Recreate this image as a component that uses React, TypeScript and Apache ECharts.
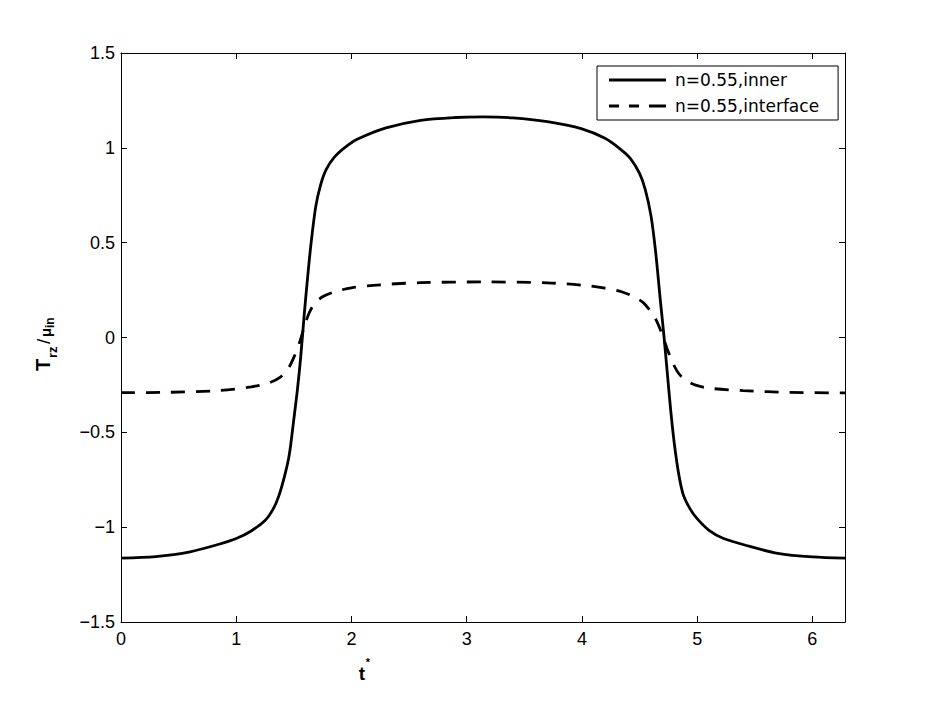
import React, { useEffect, useRef } from "react";
import * as echarts from "echarts";

// t* values and T_rz/mu_in for the inner curve (n=0.55)
const innerT = [0, 0.3, 0.6, 0.85, 1.0, 1.13, 1.25, 1.32, 1.37, 1.42, 1.46, 1.5, 1.53, 1.56, 1.59, 1.62, 1.65, 1.69, 1.73, 1.78, 1.85, 1.95, 2.05, 2.3, 2.6, 2.9, 3.14, 3.4, 3.7, 4.0, 4.2, 4.33, 4.42, 4.5, 4.55, 4.6, 4.64, 4.68, 4.71, 4.74, 4.77, 4.8, 4.84, 4.88, 4.94, 5.0, 5.1, 5.23, 5.45, 5.7, 6.0, 6.2832];
const innerV = [-1.163, -1.155, -1.13, -1.09, -1.06, -1.02, -0.965, -0.905, -0.835, -0.73, -0.62, -0.43, -0.28, -0.1, 0.12, 0.32, 0.5, 0.69, 0.8, 0.885, 0.95, 1.005, 1.045, 1.105, 1.145, 1.16, 1.163, 1.158, 1.138, 1.1, 1.05, 0.995, 0.945, 0.865, 0.78, 0.64, 0.45, 0.2, 0.02, -0.18, -0.38, -0.55, -0.72, -0.83, -0.905, -0.955, -1.015, -1.06, -1.1, -1.138, -1.157, -1.163];

// t* values and T_rz/mu_in at the interface (n=0.55)
const ifaceT = [0, 0.4, 0.85, 1.13, 1.28, 1.38, 1.45, 1.5, 1.55, 1.59, 1.63, 1.68, 1.75, 1.85, 2.0, 2.25, 2.6, 3.14, 3.7, 4.0, 4.2, 4.35, 4.45, 4.53, 4.6, 4.65, 4.7, 4.74, 4.79, 4.84, 4.9, 4.98, 5.1, 5.4, 5.8, 6.2832];
const ifaceV = [-0.291, -0.289, -0.28, -0.26, -0.24, -0.21, -0.165, -0.105, -0.025, 0.055, 0.125, 0.18, 0.215, 0.24, 0.262, 0.278, 0.289, 0.293, 0.288, 0.276, 0.26, 0.24, 0.215, 0.185, 0.135, 0.085, 0.01, -0.06, -0.135, -0.19, -0.225, -0.25, -0.267, -0.28, -0.289, -0.292];

const seriesNames = ["n=0.55,inner", "n=0.55,interface"];
const xTicks = [0, 1, 2, 3, 4, 5, 6];

const FONT = "'Liberation Sans', Arial, Helvetica, sans-serif";

export default function App() {
  const ref = useRef<HTMLDivElement>(null);
  useEffect(() => {
    if (!ref.current) return;
    const chart = echarts.init(ref.current, undefined, { renderer: "svg" });
    const innerData = innerT.map((t, i) => [t, innerV[i]]);
    const ifaceData = ifaceT.map((t, i) => [t, ifaceV[i]]);
    const axisCommon = {
      axisLine: { show: true, onZero: false, lineStyle: { color: "#000", width: 1 } },
      axisTick: { show: true, inside: true, length: 6, lineStyle: { color: "#000", width: 1 } },
      splitLine: { show: false },
    };
    const minus = (v: number) => String(v).replace("-", "\u2212");
    chart.setOption({
      animation: false,
      backgroundColor: "#fff",
      grid: { left: 121, right: 89, top: 53, bottom: 81 },
      xAxis: [
        {
          type: "value", min: 0, max: 6.2832, interval: 1, position: "bottom",
          ...axisCommon,
          axisLabel: {
            color: "#000", fontFamily: FONT, fontSize: 18, margin: 8,
            showMaxLabel: false,
            formatter: (v: number) => (xTicks.indexOf(v) >= 0 ? String(v) : ""),
          },
        },
        {
          type: "value", min: 0, max: 6.2832, interval: 1, position: "top",
          ...axisCommon, axisLabel: { show: false },
        },
      ],
      yAxis: [
        {
          type: "value", min: -1.5, max: 1.5, interval: 0.5, position: "left",
          ...axisCommon,
          axisLabel: { color: "#000", fontFamily: FONT, fontSize: 18, margin: 6, formatter: minus },
        },
        {
          type: "value", min: -1.5, max: 1.5, interval: 0.5, position: "right",
          ...axisCommon, axisLabel: { show: false },
        },
      ],
      legend: {
        orient: "vertical",
        left: 597,
        top: 66,
        padding: [4, 19, 4, 12],
        itemGap: 6,
        itemWidth: 57,
        itemHeight: 3,
        borderColor: "#000",
        borderWidth: 1,
        backgroundColor: "#fff",
        itemStyle: { color: "#000", borderWidth: 0 },
        textStyle: { color: "#000", fontFamily: "'DejaVu Sans', sans-serif", fontSize: 17, lineHeight: 20, padding: [0, 0, 0, 4] },
        data: [
          { name: seriesNames[0], icon: "path://M0,0h57v3h-57Z" },
          { name: seriesNames[1], icon: "path://M0,0h10v3h-10Z M20,0h10v3h-10Z M40,0h17v3h-17Z" },
        ],
      },
      series: [
        {
          name: seriesNames[0], type: "line", data: innerData, showSymbol: false, symbol: "none",
          smooth: 0.3,
          lineStyle: { color: "#000", width: 2.8, type: "solid" },
          itemStyle: { color: "#000" },
        },
        {
          name: seriesNames[1], type: "line", data: ifaceData, showSymbol: false, symbol: "none",
          smooth: 0.3,
          lineStyle: { color: "#000", width: 2.8, type: [14, 11] },
          itemStyle: { color: "#000" },
        },
      ],
      graphic: [
        {
          type: "group", x: 43, y: 371, rotation: Math.PI / 2,
          children: [
            { type: "text", x: 0, y: 0, style: { text: "T", font: `bold 20px ${FONT}`, fill: "#000", verticalAlign: "middle", align: "left" } },
            { type: "text", x: 13, y: 9.5, style: { text: "rz", font: `bold 13px ${FONT}`, fill: "#000", verticalAlign: "middle", align: "left" } },
            { type: "text", x: 27, y: 0, style: { text: "/", font: `19px ${FONT}`, fill: "#000", verticalAlign: "middle", align: "left" } },
            { type: "text", x: 34, y: 2, style: { text: "\u03bc", font: `bold 15px ${FONT}`, fill: "#000", verticalAlign: "middle", align: "left" } },
            { type: "text", x: 43, y: 7, style: { text: "in", font: `bold 12px ${FONT}`, fill: "#000", verticalAlign: "middle", align: "left" } },
          ],
        },
        { type: "text", x: 362, y: 673, style: { text: "t", font: `bold 19px ${FONT}`, fill: "#000", align: "center", verticalAlign: "middle" } },
        { type: "text", x: 368, y: 662, style: { text: "*", font: `bold 11px ${FONT}`, fill: "#000", align: "center", verticalAlign: "middle" } },
      ],
    });
    return () => chart.dispose();
  }, []);
  return <div ref={ref} style={{ position: "fixed", left: 0, top: 0, width: 934, height: 703, background: "#fff" }} />;
}
